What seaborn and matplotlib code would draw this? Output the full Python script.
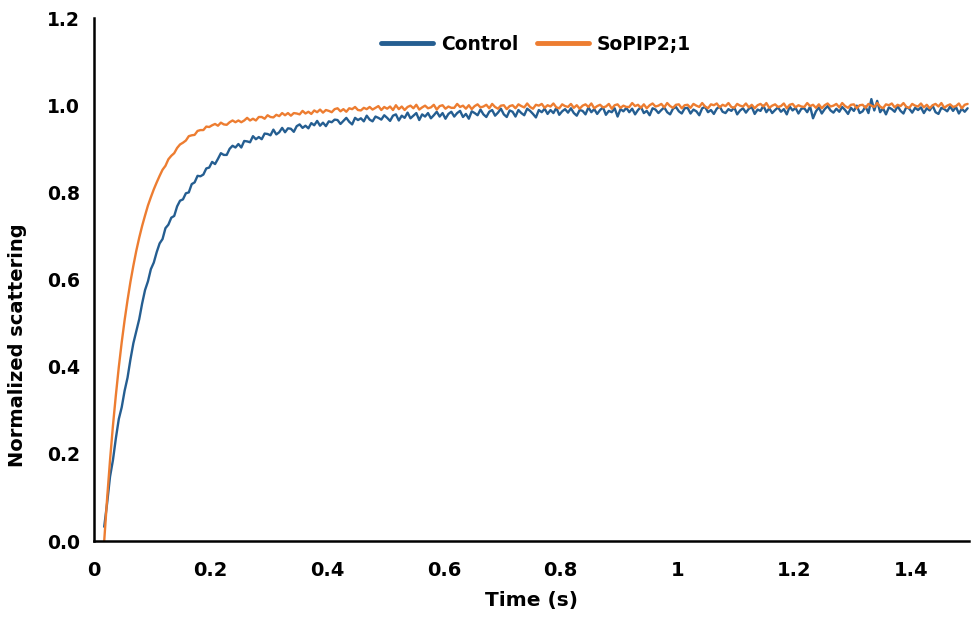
import numpy as np
import pandas as pd
import matplotlib
matplotlib.use("Agg")
import matplotlib.pyplot as plt
import seaborn as sns

# ---- data ----
t_start = 0.0175
t_step = 0.005

control = [
    0.033, 0.087, 0.148, 0.186, 0.236, 0.280, 0.307, 0.345, 0.375, 0.417,
    0.454, 0.482, 0.509, 0.545, 0.576, 0.596, 0.624, 0.639, 0.663, 0.683,
    0.693, 0.718, 0.726, 0.742, 0.746, 0.768, 0.781, 0.784, 0.798, 0.800,
    0.819, 0.823, 0.838, 0.837, 0.841, 0.855, 0.857, 0.870, 0.865, 0.877,
    0.890, 0.886, 0.886, 0.900, 0.907, 0.903, 0.911, 0.903, 0.918, 0.917,
    0.915, 0.929, 0.922, 0.927, 0.922, 0.935, 0.934, 0.931, 0.944, 0.933,
    0.938, 0.948, 0.938, 0.947, 0.946, 0.939, 0.952, 0.956, 0.948, 0.953,
    0.947, 0.959, 0.954, 0.964, 0.953, 0.960, 0.952, 0.963, 0.961, 0.967,
    0.966, 0.957, 0.964, 0.971, 0.962, 0.956, 0.971, 0.966, 0.970, 0.963,
    0.976, 0.967, 0.963, 0.974, 0.971, 0.967, 0.977, 0.971, 0.964, 0.976,
    0.979, 0.965, 0.976, 0.971, 0.983, 0.970, 0.976, 0.982, 0.966, 0.979,
    0.974, 0.982, 0.970, 0.977, 0.985, 0.974, 0.982, 0.969, 0.980, 0.985,
    0.974, 0.982, 0.987, 0.973, 0.980, 0.969, 0.986, 0.982, 0.977, 0.990,
    0.979, 0.973, 0.985, 0.989, 0.976, 0.983, 0.992, 0.979, 0.973, 0.988,
    0.985, 0.974, 0.989, 0.982, 0.977, 0.992, 0.987, 0.980, 0.972, 0.989,
    0.984, 0.992, 0.980, 0.989, 0.982, 0.994, 0.978, 0.986, 0.991, 0.983,
    0.993, 0.982, 0.976, 0.989, 0.987, 0.979, 0.995, 0.984, 0.991, 0.980,
    0.989, 0.995, 0.978, 0.987, 0.984, 0.993, 0.974, 0.991, 0.986, 0.994,
    0.984, 0.992, 0.979, 0.989, 0.996, 0.982, 0.987, 0.977, 0.993, 0.990,
    0.982, 0.989, 0.995, 0.984, 0.979, 0.992, 0.996, 0.986, 0.981, 0.993,
    0.994, 0.981, 0.990, 0.986, 0.977, 0.993, 0.996, 0.984, 0.989, 0.980,
    0.992, 0.997, 0.985, 0.982, 0.991, 0.987, 0.995, 0.979, 0.988, 0.993,
    0.983, 0.992, 0.996, 0.980, 0.990, 0.987, 0.999, 0.984, 0.993, 0.982,
    0.989, 0.995, 0.985, 0.991, 0.979, 0.997, 0.988, 0.994, 0.981, 0.992,
    0.993, 0.984, 0.997, 0.970, 0.986, 0.995, 0.981, 0.991, 0.998, 0.988,
    0.983, 0.992, 0.985, 0.996, 0.989, 0.980, 0.994, 0.987, 0.999, 0.982,
    0.986, 0.997, 0.982, 1.014, 0.988, 1.010, 0.984, 0.993, 0.979, 0.995,
    0.991, 0.985, 0.998, 0.987, 0.981, 0.996, 0.992, 0.983, 0.994, 0.989,
    0.995, 0.982, 0.993, 0.988, 0.999, 0.984, 0.980, 0.994, 0.991, 0.986,
    0.997, 0.987, 0.996, 0.981, 0.992, 0.985, 0.993,
]

sopip = [
    0.000, 0.098, 0.186, 0.265, 0.335, 0.399, 0.456, 0.507, 0.553, 0.595,
    0.632, 0.666, 0.696, 0.723, 0.747, 0.770, 0.789, 0.807, 0.823, 0.838,
    0.852, 0.861, 0.876, 0.884, 0.890, 0.902, 0.910, 0.914, 0.919, 0.929,
    0.931, 0.932, 0.941, 0.943, 0.943, 0.951, 0.950, 0.954, 0.957, 0.953,
    0.960, 0.956, 0.955, 0.961, 0.965, 0.961, 0.965, 0.961, 0.965, 0.971,
    0.965, 0.969, 0.965, 0.973, 0.973, 0.969, 0.977, 0.973, 0.972, 0.978,
    0.975, 0.982, 0.977, 0.982, 0.976, 0.982, 0.981, 0.979, 0.987, 0.981,
    0.985, 0.980, 0.988, 0.984, 0.990, 0.983, 0.989, 0.987, 0.984, 0.991,
    0.993, 0.986, 0.991, 0.985, 0.993, 0.991, 0.996, 0.989, 0.988, 0.994,
    0.991, 0.996, 0.990, 0.994, 0.998, 0.989, 0.996, 0.992, 0.997, 0.989,
    1.000, 0.991, 0.997, 0.989, 0.996, 0.999, 0.993, 1.001, 0.990, 0.995,
    0.999, 0.993, 0.995, 1.001, 0.990, 0.998, 1.000, 0.992, 0.997, 0.994,
    0.994, 1.003, 0.996, 0.999, 0.992, 1.000, 0.991, 0.998, 1.002, 0.995,
    0.997, 1.001, 0.993, 1.003, 0.996, 0.992, 0.999, 1.000, 0.991, 0.998,
    1.000, 0.993, 1.002, 0.998, 0.995, 1.004, 0.996, 0.992, 1.001, 0.999,
    1.003, 0.994, 1.000, 0.997, 1.004, 0.995, 0.993, 1.002, 0.998, 0.996,
    1.003, 0.994, 1.000, 0.992, 0.999, 1.002, 0.996, 1.004, 0.993, 0.998,
    1.001, 0.995, 0.997, 1.003, 0.992, 1.000, 1.002, 0.994, 0.999, 0.996,
    0.996, 1.005, 0.998, 1.001, 0.994, 1.002, 0.993, 1.000, 1.004, 0.997,
    0.999, 1.003, 0.995, 1.005, 0.998, 0.994, 1.001, 1.002, 0.993, 1.000,
    1.001, 0.994, 1.003, 0.999, 0.996, 1.005, 0.997, 0.993, 1.002, 1.000,
    1.004, 0.995, 1.001, 0.998, 1.005, 0.996, 0.994, 1.003, 0.999, 0.997,
    1.004, 0.995, 1.001, 0.993, 1.000, 1.003, 0.997, 1.005, 0.994, 0.999,
    1.002, 0.996, 0.998, 1.004, 0.993, 1.001, 1.003, 0.995, 1.000, 0.997,
    0.996, 1.005, 0.998, 1.001, 0.994, 1.002, 0.993, 1.000, 1.004, 0.997,
    0.999, 1.003, 0.995, 1.005, 0.998, 0.994, 1.001, 1.002, 0.993, 1.000,
    1.001, 0.994, 1.003, 0.999, 0.996, 1.005, 0.997, 0.993, 1.002, 1.000,
    1.004, 0.995, 1.001, 0.998, 1.005, 0.996, 0.994, 1.003, 0.999, 0.997,
    1.004, 0.995, 1.001, 0.993, 1.000, 1.003, 0.997, 1.005, 0.994, 0.999,
    1.002, 0.996, 0.998, 1.004, 0.993, 1.001, 1.003,
]

series_names = ["Control", "SoPIP2;1"]
series_colors = ["#255E91", "#ED7D31"]
x_ticks = [0, 0.2, 0.4, 0.6, 0.8, 1.0, 1.2, 1.4]
x_tick_labels = ["0", "0.2", "0.4", "0.6", "0.8", "1", "1.2", "1.4"]
y_ticks = [0.0, 0.2, 0.4, 0.6, 0.8, 1.0, 1.2]
y_tick_labels = ["0.0", "0.2", "0.4", "0.6", "0.8", "1.0", "1.2"]

time = [round(t_start + t_step * i, 4) for i in range(len(control))]

df = pd.DataFrame({
    "Time": time + time,
    "Value": control + sopip,
    "Series": [series_names[0]] * len(control) + [series_names[1]] * len(sopip),
})

sns.set_style("white")
plt.rcParams["font.family"] = ["DejaVu Sans"]
plt.rcParams["text.color"] = "black"
plt.rcParams["axes.labelcolor"] = "black"
plt.rcParams["xtick.color"] = "black"
plt.rcParams["ytick.color"] = "black"

fig = plt.figure(figsize=(9.72, 6.22), dpi=100)
ax = fig.add_axes([0.0967, 0.130, 0.9003, 0.841])

sns.lineplot(data=df, x="Time", y="Value", hue="Series",
             palette=dict(zip(series_names, series_colors)),
             estimator=None, sort=False, linewidth=1.7, ax=ax)

ax.set_xlim(0, 1.5)
ax.set_ylim(0, 1.2)
ax.set_xticks(x_ticks)
ax.set_xticklabels(x_tick_labels, fontsize=14, fontweight="bold")
ax.set_yticks(y_ticks)
ax.set_yticklabels(y_tick_labels, fontsize=13.5, fontweight="bold")
ax.tick_params(axis="x", length=0, pad=14)
ax.tick_params(axis="y", length=0, pad=10)
ax.set_xlabel("Time (s)", fontsize=14.5, fontweight="bold", labelpad=8)
ax.set_ylabel("Normalized scattering", fontsize=14, fontweight="bold")
ax.yaxis.set_label_coords(-0.077, 0.375)

for side in ["top", "right"]:
    ax.spines[side].set_visible(False)
for side in ["left", "bottom"]:
    ax.spines[side].set_color("black")
    ax.spines[side].set_linewidth(1.8)

handles, labels = ax.get_legend_handles_labels()
for h in handles:
    h.set_linewidth(3.5)
leg = ax.legend(handles, labels, loc="upper center", bbox_to_anchor=(0.505, 1.0),
                ncol=2, frameon=False, handlelength=2.8, columnspacing=1.0,
                handletextpad=0.4, prop={"weight": "bold", "size": 13.5})

fig.savefig("out.png", dpi=100)
